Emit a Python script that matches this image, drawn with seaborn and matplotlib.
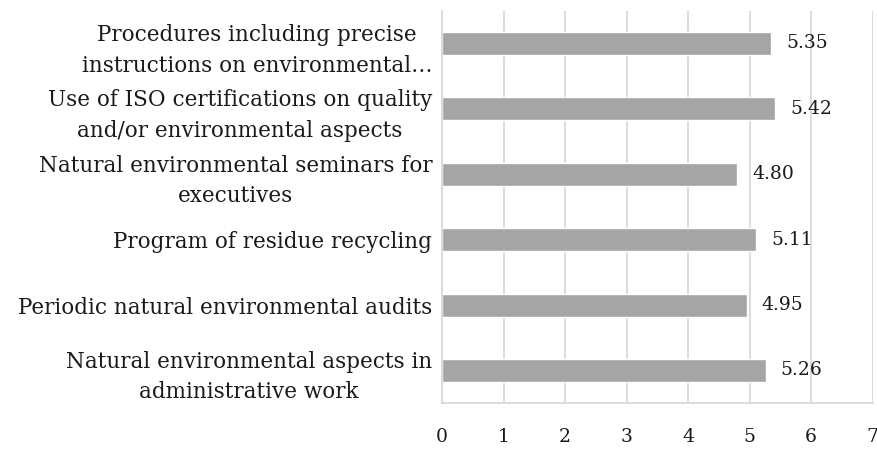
import matplotlib
matplotlib.use("Agg")
import matplotlib.pyplot as plt
import seaborn as sns
import pandas as pd

# chart data, top to bottom
categories = [
    "Procedures including precise\ninstructions on environmental…",
    "Use of ISO certifications on quality\nand/or environmental aspects",
    "Natural environmental seminars for\nexecutives",
    "Program of residue recycling",
    "Periodic natural environmental audits",
    "Natural environmental aspects in\nadministrative work",
]
scores = [5.35, 5.42, 4.80, 5.11, 4.95, 5.26]
x_ticks = [0, 1, 2, 3, 4, 5, 6, 7]

df = pd.DataFrame({"practice": categories, "score": scores})

sns.set_style("white")
plt.rcParams["font.family"] = ["DejaVu Serif"]
plt.rcParams["text.color"] = "#1a1a1a"
plt.rcParams["xtick.color"] = "#1a1a1a"
plt.rcParams["ytick.color"] = "#1a1a1a"

fig = plt.figure(figsize=(8.77, 4.5), dpi=100)
ax = fig.add_axes([0.504, 0.104, 0.491, 0.872])

sns.barplot(data=df, x="score", y="practice", orient="h", color="#a5a5a5",
            saturation=1, width=0.35, ax=ax)

for i, v in enumerate(scores):
    ax.annotate(f"{v:.2f}", xy=(v, i), xytext=(11, 0), textcoords="offset points",
                va="center", ha="left", fontsize=13.5, color="#1a1a1a")

ax.set_xlim(0, 7)
ax.set_ylim(len(categories) - 0.5, -0.5)
ax.set_xticks(x_ticks)
ax.set_xticklabels([str(t) for t in x_ticks])
ax.xaxis.grid(True, color="#d9d9d9", linewidth=1.3)
ax.set_axisbelow(True)
ax.set_xlabel("")
ax.set_ylabel("")

for lbl in ax.get_yticklabels():
    lbl.set_multialignment("center")
    lbl.set_linespacing(1.5)
ax.tick_params(axis="y", length=0, pad=7, labelsize=15.5)
ax.tick_params(axis="x", length=0, pad=18, labelsize=13.5)

for side in ["top", "right"]:
    ax.spines[side].set_visible(False)
for side in ["left", "bottom"]:
    ax.spines[side].set_color("#d9d9d9")
    ax.spines[side].set_linewidth(1.3)

fig.savefig("out.png", dpi=100)
